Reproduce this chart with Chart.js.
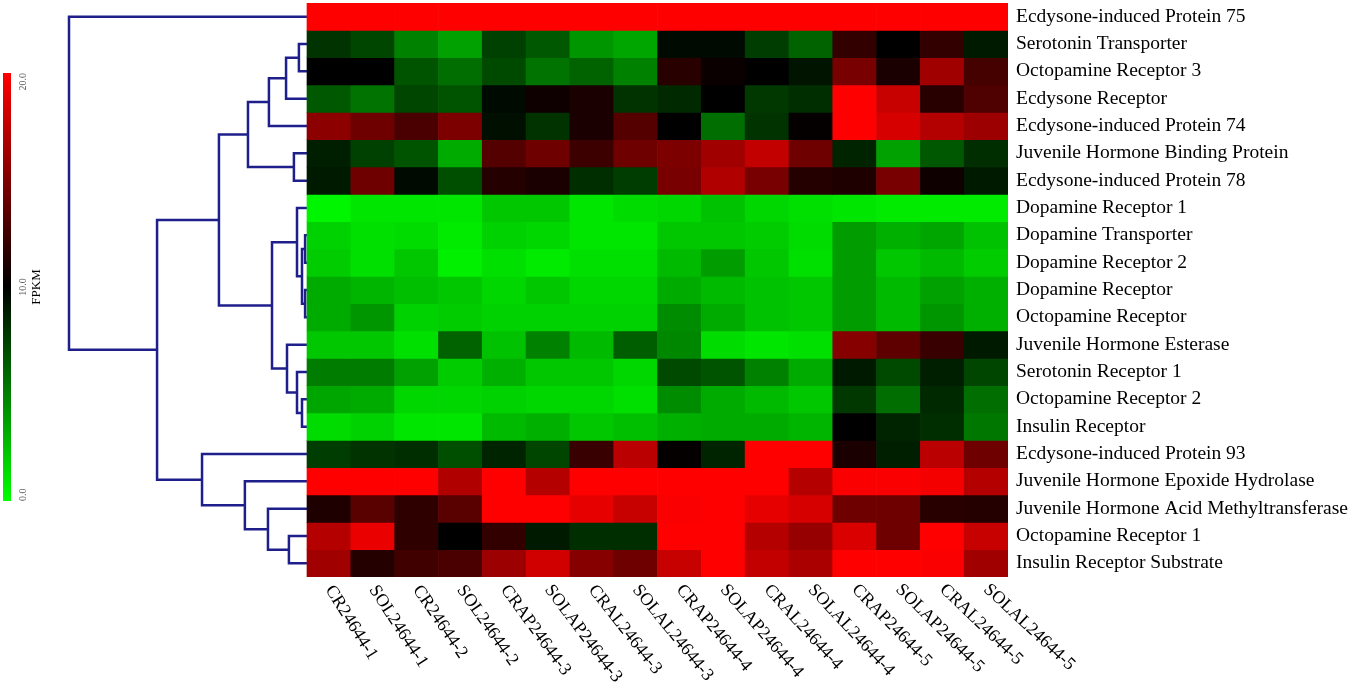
<!DOCTYPE html>
<html>
<head>
<meta charset="utf-8">
<script src="https://cdn.jsdelivr.net/npm/chart.js@4.4.0/dist/chart.umd.min.js"></script>
<style>
  html, body { margin: 0; padding: 0; background: #fff; }
  #wrap { position: relative; width: 1349px; height: 690px; }
</style>
</head>
<body>
<div id="wrap"><canvas id="heatmap" width="1349" height="690"></canvas></div>
<script>
const samples = [
  'CR24644-1', 'SOL24644-1', 'CR24644-2', 'SOL24644-2',
  'CRAP24644-3', 'SOLAP24644-3', 'CRAL24644-3', 'SOLAL24644-3',
  'CRAP24644-4', 'SOLAP24644-4', 'CRAL24644-4', 'SOLAL24644-4',
  'CRAP24644-5', 'SOLAP24644-5', 'CRAL24644-5', 'SOLAL24644-5',
];

const genes = [
  'Ecdysone-induced Protein 75',
  'Serotonin Transporter',
  'Octopamine Receptor 3',
  'Ecdysone Receptor',
  'Ecdysone-induced Protein 74',
  'Juvenile Hormone Binding Protein',
  'Ecdysone-induced Protein 78',
  'Dopamine Receptor 1',
  'Dopamine Transporter',
  'Dopamine Receptor 2',
  'Dopamine Receptor',
  'Octopamine Receptor',
  'Juvenile Hormone Esterase',
  'Serotonin Receptor 1',
  'Octopamine Receptor 2',
  'Insulin Receptor',
  'Ecdysone-induced Protein 93',
  'Juvenile Hormone Epoxide Hydrolase',
  'Juvenile Hormone Acid Methyltransferase',
  'Octopamine Receptor 1',
  'Insulin Receptor Substrate',
];

// FPKM per gene (rows, same order as genes), one value per sample
const fpkm = [
  [20, 20, 20, 20, 20, 20, 20, 20, 20, 20, 20, 20, 20, 20, 20, 20],
  [8.0, 7.3, 4.9, 3.7, 7.5, 6.5, 4.1, 3.5, 9.6, 9.6, 7.6, 6.1, 12.0, 10.0, 12.0, 9.0],
  [10.0, 10.0, 6.7, 5.7, 7.1, 5.5, 6.1, 4.9, 11.6, 10.4, 10.0, 9.2, 14.7, 11.0, 16.3, 12.7],
  [6.5, 5.5, 7.3, 6.7, 9.6, 10.6, 11.0, 8.0, 8.4, 10.0, 7.8, 8.2, 20.0, 17.8, 11.6, 13.1],
  [15.5, 14.3, 12.9, 14.9, 9.4, 8.0, 11.0, 13.3, 10.0, 5.7, 8.0, 10.2, 20.0, 18.4, 17.0, 16.1],
  [8.8, 7.5, 6.7, 3.3, 13.3, 14.3, 12.4, 14.3, 14.9, 16.3, 17.6, 14.3, 8.6, 3.7, 6.5, 8.2],
  [9.0, 14.3, 9.6, 6.9, 11.4, 11.0, 8.2, 7.6, 14.7, 16.9, 14.7, 11.4, 11.2, 14.7, 10.6, 9.0],
  [0.4, 1.0, 1.0, 1.0, 2.2, 2.2, 1.0, 1.4, 1.6, 2.4, 1.6, 1.2, 1.0, 0.8, 0.8, 0.8],
  [1.8, 1.2, 1.4, 0.8, 1.8, 1.6, 1.0, 1.0, 2.2, 2.2, 2.0, 1.4, 3.9, 3.1, 3.5, 2.4],
  [2.0, 1.2, 2.2, 0.6, 1.2, 0.8, 1.2, 1.2, 2.7, 3.9, 2.2, 1.2, 3.9, 2.2, 2.7, 2.0],
  [3.3, 2.9, 2.5, 2.2, 1.6, 2.2, 1.6, 1.6, 3.3, 2.7, 2.4, 2.2, 3.9, 2.7, 3.7, 3.1],
  [3.3, 4.1, 1.8, 2.0, 1.8, 1.8, 1.8, 1.8, 4.5, 3.3, 2.4, 2.2, 3.9, 2.7, 4.1, 3.1],
  [2.2, 2.2, 1.2, 6.1, 2.4, 4.9, 2.7, 6.3, 4.7, 1.4, 1.0, 1.2, 15.3, 13.7, 12.2, 9.0],
  [5.1, 5.1, 3.7, 2.0, 3.1, 2.2, 2.2, 1.6, 7.1, 6.7, 4.9, 3.3, 9.0, 7.1, 8.8, 7.3],
  [3.5, 3.3, 1.6, 1.6, 1.8, 1.6, 1.6, 1.2, 4.5, 3.3, 2.7, 2.2, 7.8, 5.7, 8.4, 5.7],
  [1.4, 1.8, 1.0, 1.0, 2.7, 3.1, 2.2, 2.5, 3.1, 3.3, 3.3, 2.9, 10.0, 8.6, 8.2, 5.3],
  [7.6, 8.0, 8.2, 6.9, 8.6, 7.3, 12.2, 17.3, 10.2, 8.6, 20.0, 20.0, 11.0, 8.8, 17.3, 14.3],
  [20, 20, 20, 16.9, 20, 17.1, 20, 20, 20, 20, 20, 17.1, 19.8, 19.8, 19.6, 17.1],
  [11.2, 13.5, 11.8, 13.5, 20, 20, 19.0, 17.8, 19.8, 20, 19.0, 18.4, 14.3, 14.3, 11.6, 11.4],
  [17.1, 19.2, 11.8, 10.0, 12.0, 9.0, 8.2, 8.2, 20, 20, 17.1, 15.9, 18.6, 14.3, 20, 17.8],
  [16.3, 11.4, 12.5, 12.9, 16.1, 18.2, 15.3, 14.3, 17.8, 20, 17.6, 16.7, 20, 20, 19.8, 16.3],
];

const colorbarTicks = [0, 10, 20];

// row dendrogram: [left node, right node, height]; leaves are 0..20, new nodes get 21, 22, ...
const merges = [
  [1, 2, 0.034],
  [21, 3, 0.088],
  [22, 4, 0.160],
  [5, 6, 0.055],
  [23, 24, 0.248],
  [8, 9, 0.008],
  [10, 11, 0.008],
  [26, 27, 0.021],
  [7, 28, 0.042],
  [14, 15, 0.021],
  [13, 30, 0.042],
  [12, 31, 0.084],
  [29, 32, 0.147],
  [25, 33, 0.370],
  [19, 20, 0.076],
  [18, 35, 0.164],
  [17, 36, 0.261],
  [16, 37, 0.441],
  [34, 38, 0.630],
  [0, 39, 1.0],
];

const FONT = "'Liberation Serif', 'Times New Roman', serif";
const DENDRO_W = 238;   // px from dendrogram root to heatmap
const HEAT_W = 701;     // px heatmap width
const LINK_COLOR = '#1f1f8c';

function fpkmColor(v) {
  if (v <= 10) return `rgb(0, ${Math.round((10 - v) / 10 * 255)}, 0)`;
  return `rgb(${Math.round((v - 10) / 10 * 255)}, 0, 0)`;
}

const cellSets = genes.map((g, r) => ({
  label: g,
  data: samples.map((s, c) => ({ x: c + 0.5, y: [r, r + 1] })),
  backgroundColor: fpkm[r].map(fpkmColor),
  borderWidth: 0,
  grouped: false,
  barPercentage: 1,
  categoryPercentage: 1,
}));

// dendrogram elbows
const nodes = genes.map((g, r) => ({ y: r + 0.5, h: 0 }));
const linkSets = merges.map(([a, b, h]) => {
  const A = nodes[a], B = nodes[b];
  nodes.push({ y: (A.y + B.y) / 2, h });
  return {
    type: 'line',
    xAxisID: 'xd',
    yAxisID: 'y',
    data: [{ x: A.h, y: A.y }, { x: h, y: A.y }, { x: h, y: B.y }, { x: B.h, y: B.y }],
    borderColor: LINK_COLOR,
    borderWidth: 2.5,
    pointRadius: 0,
    fill: false,
    tension: 0,
    clip: false,
  };
});

const colorbarPlugin = {
  id: 'colorbar',
  afterDraw(chart) {
    const ctx = chart.ctx;
    const x = 3, top = 73, h = 428, w = 8;
    const grad = ctx.createLinearGradient(0, top, 0, top + h);
    grad.addColorStop(0, fpkmColor(20));
    grad.addColorStop(0.5, fpkmColor(10));
    grad.addColorStop(1, fpkmColor(0));
    ctx.save();
    ctx.fillStyle = grad;
    ctx.fillRect(x, top, w, h);
    const lo = colorbarTicks[0], hi = colorbarTicks[colorbarTicks.length - 1];
    ctx.fillStyle = '#555';
    ctx.font = `10px ${FONT}`;
    ctx.textBaseline = 'middle';
    colorbarTicks.forEach(t => {
      const f = (t - lo) / (hi - lo);
      const y = top + h - f * h;
      ctx.save();
      ctx.translate(23, y);
      ctx.rotate(-Math.PI / 2);
      ctx.textAlign = f === 0 ? 'left' : (f === 1 ? 'right' : 'center');
      ctx.fillText(t.toFixed(1), 0, 0);
      ctx.restore();
    });
    ctx.fillStyle = '#000';
    ctx.font = `13px ${FONT}`;
    ctx.translate(37, top + h / 2);
    ctx.rotate(-Math.PI / 2);
    ctx.textAlign = 'center';
    ctx.fillText('FPKM', 0, 0);
    ctx.restore();
  }
};

const sampleLabelPlugin = {
  id: 'sampleLabels',
  afterDraw(chart) {
    const ctx = chart.ctx;
    const xs = chart.scales.x;
    const base = chart.chartArea.bottom + 10;
    const n = samples.length;
    ctx.save();
    ctx.fillStyle = '#000';
    ctx.font = `18px ${FONT}`;
    ctx.textAlign = 'left';
    ctx.textBaseline = 'middle';
    samples.forEach((s, i) => {
      // labels fan out slightly, steeper on the left
      const deg = 58 - 15 * i / (n - 1);
      ctx.save();
      ctx.translate(xs.getPixelForValue(i + 0.5), base);
      ctx.rotate(deg * Math.PI / 180);
      ctx.fillText(s, 0, 0);
      ctx.restore();
    });
    ctx.restore();
  }
};

new Chart(document.getElementById('heatmap'), {
  type: 'bar',
  data: { datasets: [...cellSets, ...linkSets] },
  options: {
    responsive: false,
    animation: false,
    devicePixelRatio: 1,
    layout: { padding: { left: 69, top: 3, right: 0, bottom: 113 } },
    plugins: { legend: { display: false }, tooltip: { enabled: false } },
    scales: {
      x: {
        type: 'linear',
        min: -samples.length * DENDRO_W / HEAT_W,
        max: samples.length,
        offset: false,
        grid: { offset: false },
        display: false,
      },
      xd: {
        type: 'linear',
        reverse: true,
        min: 1 - (DENDRO_W + HEAT_W) / DENDRO_W,
        max: 1,
        offset: false,
        grid: { offset: false },
        display: false,
      },
      y: {
        type: 'linear',
        reverse: true,
        min: 0,
        max: genes.length,
        display: false,
      },
      yl: {
        type: 'category',
        labels: genes,
        position: 'right',
        offset: true,
        grid: { display: false, drawTicks: false },
        border: { display: false },
        ticks: { color: '#000', font: { family: FONT, size: 19.5 }, padding: 8, autoSkip: false },
        afterFit(scale) {
          scale.width = 341;
          scale.paddingTop = 0;
          scale.paddingBottom = 0;
        },
      },
    },
  },
  plugins: [colorbarPlugin, sampleLabelPlugin],
});
</script>
</body>
</html>
